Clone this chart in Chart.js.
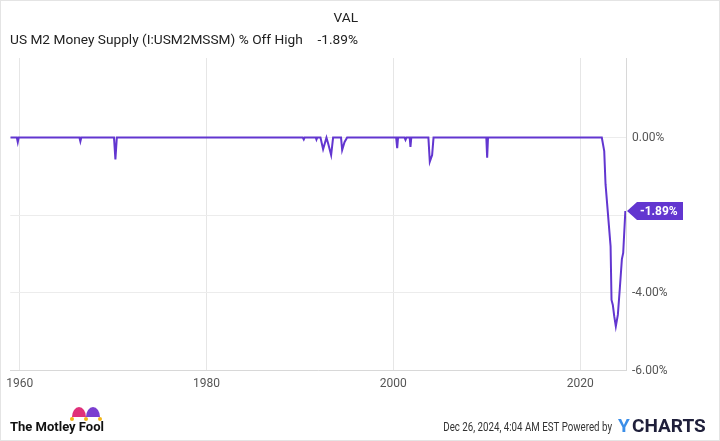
<!DOCTYPE html>
<html>
<head>
<meta charset="utf-8">
<script src="https://cdn.jsdelivr.net/npm/chart.js@4"></script>
<style>
  html, body { margin: 0; padding: 0; background: #fff; }
  #wrap { position: relative; width: 720px; height: 441px; }
</style>
</head>
<body>
<div id="wrap"><canvas id="chart" width="720" height="441"></canvas></div>
<script>
// data (decimal years, % off high)
const years = [
  1959.0, 1959.7, 1959.8, 1959.9, 1966.4, 1966.5, 1966.6,
  1970.1, 1970.25, 1970.4, 1990.3, 1990.41, 1990.5, 1991.7, 1991.77, 1991.85,
  1992.2, 1992.48, 1992.84, 1993.02, 1993.34, 1993.55, 1994.4, 1994.52, 1994.77, 1995.05,
  2000.3, 2000.41, 2000.5, 2001.2, 2001.3, 2001.4, 2001.75, 2001.83, 2001.92,
  2003.75, 2003.9, 2004.15, 2004.3, 2009.95, 2010.04, 2010.13,
  2022.31, 2022.57, 2022.71, 2023.25, 2023.35, 2023.49, 2023.64, 2023.81,
  2024.03, 2024.24, 2024.46, 2024.6, 2024.83
];
const offHigh = [
  0, 0, -0.12, 0, 0, -0.1, 0,
  0, -0.56, 0, 0, -0.05, 0, 0, -0.05, 0,
  0, -0.3, 0, -0.15, -0.45, 0, 0, -0.32, -0.12, 0,
  0, -0.27, 0, 0, -0.06, 0, 0, -0.24, 0,
  0, -0.62, -0.45, 0, 0, -0.52, 0,
  0, -0.35, -1.2, -2.8, -4.18, -4.31, -4.6, -4.86,
  -4.56, -3.88, -3.13, -2.97, -1.89
];
const xTicks = [1960, 1980, 2000, 2020];
const yTicks = [0, -2, -4, -6];
const lastValue = offHigh[offHigh.length - 1];

const purple = "#6236d0";
const fontFam = "Roboto, 'Liberation Sans', sans-serif";

// header, flag and footer drawn on the canvas
const decorations = {
  id: "decorations",
  afterDraw(chart) {
    const ctx = chart.ctx;
    const y = chart.scales.y;
    const area = chart.chartArea;
    ctx.save();

    // header
    ctx.fillStyle = "#222";
    ctx.font = "13.7px " + fontFam;
    ctx.textBaseline = "middle";
    ctx.textAlign = "left";
    ctx.fillText("US M2 Money Supply (I:USM2MSSM) % Off High", 10, 41);
    ctx.textAlign = "right";
    ctx.fillText("VAL", 358, 19);
    ctx.fillText(lastValue.toFixed(2) + "%", 358, 41);

    // flag for last value
    const fy = y.getPixelForValue(lastValue);
    const fx = area.right + 1;
    ctx.fillStyle = purple;
    ctx.beginPath();
    ctx.moveTo(fx, fy);
    ctx.lineTo(fx + 10, fy - 9);
    ctx.lineTo(fx + 56, fy - 9);
    ctx.lineTo(fx + 56, fy + 9);
    ctx.lineTo(fx + 10, fy + 9);
    ctx.closePath();
    ctx.fill();
    ctx.fillStyle = "#fff";
    ctx.font = "bold 12px " + fontFam;
    ctx.textAlign = "left";
    ctx.fillText(lastValue.toFixed(2) + "%", fx + 13, fy + 1);

    // footer
    ctx.fillStyle = "#111";
    ctx.font = "bold 13px " + fontFam;
    ctx.fillText("The Motley Fool", 10, 428);
    ctx.fillStyle = "#e0307a";
    ctx.beginPath(); ctx.ellipse(79, 417, 7, 10, 0, Math.PI, 0); ctx.fill();
    ctx.fillStyle = "#7b3fd0";
    ctx.beginPath(); ctx.ellipse(93, 417, 7, 10, 0, Math.PI, 0); ctx.fill();
    ctx.fillStyle = "#f2b619";
    [72, 86, 100].forEach(cx => { ctx.beginPath(); ctx.arc(cx, 419, 2, 0, Math.PI * 2); ctx.fill(); });

    ctx.fillStyle = "#333";
    ctx.font = "12px " + fontFam;
    ctx.textAlign = "right";
    ctx.save();
    ctx.translate(612, 428);
    ctx.scale(0.81, 1);
    ctx.fillText("Dec 26, 2024, 4:04 AM EST Powered by", 0, 0);
    ctx.restore();
    ctx.fillStyle = "#1f1f3a";
    ctx.font = "bold 19px " + fontFam;
    ctx.textAlign = "left";
    ctx.fillText("CHARTS", 632, 427);
    ctx.fillStyle = "#3b8ee8";
    ctx.fillText("Y", 618, 427);

    // outer frame lines
    ctx.strokeStyle = "#e4e4e4";
    ctx.lineWidth = 1;
    ctx.strokeRect(0.5, 0.5, 719, 440);
    ctx.restore();
  }
};

new Chart(document.getElementById("chart").getContext("2d"), {
  type: "line",
  data: {
    datasets: [{
      data: years.map((yr, i) => ({ x: yr, y: offHigh[i] })),
      borderColor: purple,
      borderWidth: 2,
      pointRadius: 0,
      tension: 0,
      fill: false
    }]
  },
  options: {
    responsive: false,
    animation: false,
    layout: { padding: { top: 58, left: 10, right: 0, bottom: 44 } },
    plugins: { legend: { display: false }, tooltip: { enabled: false } },
    scales: {
      x: {
        type: "linear",
        min: 1959.0,
        max: 2024.9,
        afterBuildTicks: s => { s.ticks = xTicks.map(v => ({ value: v })); },
        ticks: { color: "#555", font: { family: fontFam, size: 12 }, padding: 6, maxRotation: 0,
                 callback: v => String(v) },
        grid: { color: "#e6e6e6", drawTicks: false },
        border: { color: "#d8d8d8" }
      },
      y: {
        position: "right",
        min: -6,
        max: 2.05,
        afterBuildTicks: s => { s.ticks = yTicks.map(v => ({ value: v })); },
        ticks: { color: "#555", font: { family: fontFam, size: 12 }, padding: 6,
                 callback: v => v === -2 ? "" : v.toFixed(2) + "%" },
        afterFit: s => { s.width = 94; },
        grid: { color: "#ececec", drawTicks: false },
        border: { color: "#d8d8d8" }
      }
    }
  },
  plugins: [decorations]
});
</script>
</body>
</html>
